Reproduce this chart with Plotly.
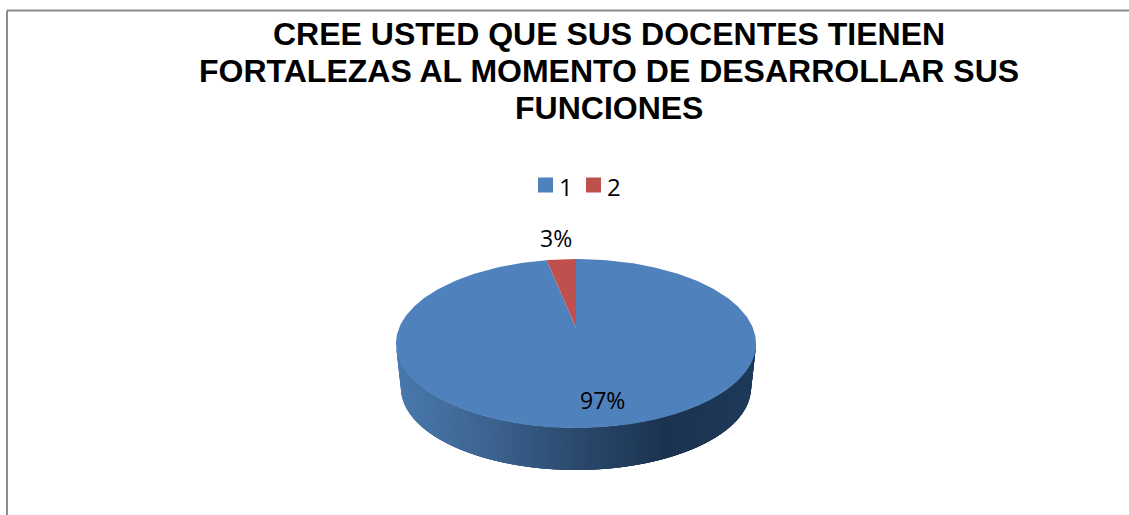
"""3D looking pie: docentes fortalezas survey chart."""
import numpy as np
import plotly.graph_objects as go

# values
categories = ["1", "2"]
values = [97.4, 2.6]
title_lines = [
    "CREE USTED QUE SUS DOCENTES TIENEN",
    "FORTALEZAS AL MOMENTO DE DESARROLLAR SUS",
    "FUNCIONES",
]

COLORS = ["#4f81bd", "#c0504d"]
SIDE_STOPS = ["#4a79ae", "#3d6490", "#2b4a6e", "#1c3350", "#1f3a5a"]

W, H = 1129, 515
CX, CY, RX, RY = 576, 343.5, 180, 84.5       # top face
LOW_CY, LOW_RX, LOW_RY = 388, 175, 82        # bottom rim
APEX_Y = 328
LEGEND_X = [545.5, 593.5]
LEGEND_TEXT_X = [566, 614]
LEGEND_Y = 185


def rim(t_deg, cy=CY, rx=RX, ry=RY):
    # angle measured clockwise from 12 o'clock
    t = np.radians(t_deg)
    return CX + rx * np.sin(t), cy - ry * np.cos(t)


def hex_rgb(c):
    return np.array([int(c[i:i + 2], 16) for i in (1, 3, 5)])


def side_color(frac):
    pos = frac * (len(SIDE_STOPS) - 1)
    i = min(int(pos), len(SIDE_STOPS) - 2)
    mix = hex_rgb(SIDE_STOPS[i]) * (1 - pos + i) + hex_rgb(SIDE_STOPS[i + 1]) * (pos - i)
    return "rgb(%d,%d,%d)" % tuple(mix)


fig = go.Figure()

# side wall, left to right. Each strip runs on under the next one so no seams show
edges = np.linspace(270, 90, 121)
for i in range(len(edges) - 1):
    arc = edges[i:i + 5]
    xt, yt = rim(arc)
    xb, yb = rim(arc[::-1], LOW_CY, LOW_RX, LOW_RY)
    mid = rim((edges[i] + edges[i + 1]) / 2)[0]
    color = side_color((mid - (CX - RX)) / (2 * RX))
    fig.add_trace(go.Scatter(
        x=list(xt) + list(xb), y=list(yt) + list(yb),
        mode="lines", fill="toself", fillcolor=color,
        line=dict(color=color, width=0),
        hoverinfo="skip", showlegend=False,
    ))

# top face: slices start at 12 o'clock and run clockwise, series 2 last
total = sum(values)
start = 0.0
for name, val, color in zip(categories, values, COLORS):
    sweep = 360 * val / total
    xs, ys = rim(np.linspace(start, start + sweep, 361))
    fig.add_trace(go.Scatter(
        x=[CX] + list(xs) + [CX], y=[APEX_Y] + list(ys) + [APEX_Y],
        mode="lines", fill="toself", fillcolor=color,
        line=dict(color=color, width=0),
        name=name, hoverinfo="name", showlegend=False,
    ))
    start += sweep

# legend: plotly's own legend cannot pack items this tightly
for name, color, x in zip(categories, COLORS, LEGEND_X):
    fig.add_trace(go.Scatter(
        x=[x], y=[LEGEND_Y], mode="markers", name=name,
        marker=dict(symbol="square", size=15, color=color),
        hoverinfo="skip", showlegend=False,
    ))

annotations = []
for line, y in zip(title_lines, [34, 71, 108]):
    annotations.append(dict(
        x=609, y=y, xref="x", yref="y", text=f"<b>{line}</b>", showarrow=False,
        font=dict(family="Liberation Sans", size=32, color="#000000"),
    ))
for val, x, y in zip(values, [602, 555.5], [400, 238]):
    annotations.append(dict(
        x=x, y=y, xref="x", yref="y", text=f"{val:.0f}%", showarrow=False,
        font=dict(family="Open Sans", size=23, color="#000000"),
    ))
for name, x in zip(categories, LEGEND_TEXT_X):
    annotations.append(dict(
        x=x, y=LEGEND_Y + 1, xref="x", yref="y", text=name, showarrow=False,
        font=dict(family="Open Sans", size=24, color="#000000"),
    ))

fig.update_layout(
    width=W, height=H,
    margin=dict(l=0, r=0, t=0, b=0),
    paper_bgcolor="#ffffff",
    plot_bgcolor="#ffffff",
    annotations=annotations,
    showlegend=False,
    xaxis=dict(range=[0, W], visible=False, fixedrange=True),
    yaxis=dict(range=[H, 0], visible=False, fixedrange=True),
    shapes=[
        dict(type="line", xref="x", yref="y", x0=7, x1=7, y0=10.5, y1=H,
             line=dict(color="#8c8c8c", width=2)),
        dict(type="line", xref="x", yref="y", x0=7, x1=W, y0=10.5, y1=10.5,
             line=dict(color="#8c8c8c", width=2)),
    ],
)

fig.write_html("out.html", config={"displayModeBar": False},
               post_script="document.body.style.margin='0'")
